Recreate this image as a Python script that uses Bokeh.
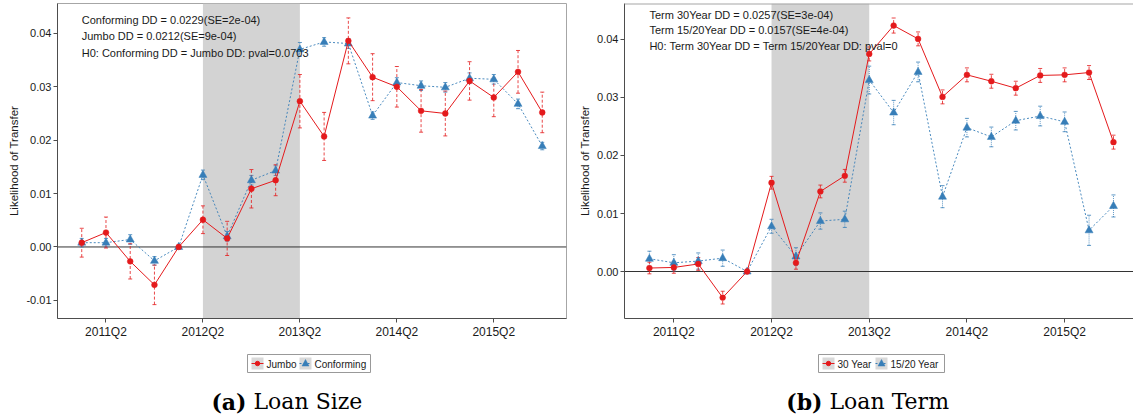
from bokeh.plotting import figure
from bokeh.models import (Range1d, FixedTicker, SingleIntervalTicker, PrintfTickFormatter,
                          BoxAnnotation, Span, GlobalInlineStyleSheet)
from bokeh.layouts import row, column
from bokeh.core.properties import value
from bokeh.embed import file_html
from bokeh.resources import INLINE

# ---------------- data ----------------
quarters = ["2011Q1", "2011Q2", "2011Q3", "2011Q4",
            "2012Q1", "2012Q2", "2012Q3", "2012Q4",
            "2013Q1", "2013Q2", "2013Q3", "2013Q4",
            "2014Q1", "2014Q2", "2014Q3", "2014Q4",
            "2015Q1", "2015Q2", "2015Q3", "2015Q4"]
tick_quarters = ["2011Q2", "2012Q2", "2013Q2", "2014Q2", "2015Q2"]
shade_start = "2012Q2"
shade_end = "2013Q2"

# Panel (a): Loan Size
jumbo = [0.0008, 0.0027, -0.0027, -0.0071, 0.0, 0.0051, 0.0016, 0.0109, 0.0125, 0.0273,
         0.0207, 0.0386, 0.0318, 0.0300, 0.0255, 0.0250, 0.0311, 0.0280, 0.0328, 0.0252]
jumbo_se = [0.0027, 0.0029, 0.0033, 0.0037, 0.0, 0.0026, 0.0032, 0.0036, 0.0029, 0.0050,
            0.0045, 0.0043, 0.0044, 0.0038, 0.0040, 0.0042, 0.0036, 0.0036, 0.0040, 0.0038]
conforming = [0.0008, 0.0008, 0.0014, -0.0026, 0.0, 0.0135, 0.0020, 0.0125, 0.0143, 0.0370,
              0.0384, 0.0381, 0.0246, 0.0308, 0.0302, 0.0299, 0.0316, 0.0314, 0.0268, 0.0189]
conforming_se = [0.0008, 0.0008, 0.0009, 0.0008, 0.0, 0.0009, 0.0009, 0.0009, 0.0009, 0.0013,
                 0.0008, 0.0009, 0.0007, 0.0009, 0.0009, 0.0009, 0.0010, 0.0009, 0.0009, 0.0007]
size_notes = ["Conforming DD = 0.0229(SE=2e-04)",
              "Jumbo DD = 0.0212(SE=9e-04)",
              "H0: Conforming DD =  Jumbo DD: pval=0.0703"]
size_legend = ["Jumbo", "Conforming"]
size_caption = ["(a)", "Loan Size"]

# Panel (b): Loan Term
term30 = [0.0006, 0.0007, 0.0013, -0.0045, 0.0, 0.0153, 0.0015, 0.0138, 0.0165, 0.0375,
          0.0424, 0.0401, 0.0301, 0.0339, 0.0328, 0.0316, 0.0338, 0.0339, 0.0343, 0.0223]
term30_se = [0.0010, 0.0010, 0.0011, 0.0011, 0.0, 0.0011, 0.0011, 0.0011, 0.0011, 0.0012,
             0.0013, 0.0012, 0.0012, 0.0012, 0.0012, 0.0012, 0.0012, 0.0012, 0.0012, 0.0012]
term1520 = [0.0022, 0.0015, 0.0018, 0.0023, 0.0, 0.0078, 0.0026, 0.0087, 0.0090, 0.0330,
            0.0274, 0.0344, 0.0129, 0.0248, 0.0232, 0.0260, 0.0268, 0.0258, 0.0071, 0.0113]
term1520_se = [0.0013, 0.0014, 0.0014, 0.0014, 0.0, 0.0012, 0.0015, 0.0014, 0.0014, 0.0024,
               0.0021, 0.0017, 0.0019, 0.0016, 0.0017, 0.0016, 0.0017, 0.0017, 0.0026, 0.0019]
term_notes = ["Term 30Year DD = 0.0257(SE=3e-04)",
              "Term 15/20Year DD = 0.0157(SE=4e-04)",
              "H0: Term 30Year DD =  Term 15/20Year DD: pval=0"]
term_legend = ["30 Year", "15/20 Year"]
term_caption = ["(b)", "Loan Term"]

RED = "#E41A1C"
BLUE = "#377EB8"
SANS = "Liberation Sans"
SERIF = "DejaVu Serif"
MAIN_H = 345
FOOT_H = 73
TOP = 3
BOTTOM = 27


def panel(red_vals, red_se, blue_vals, blue_se, notes, note_y,
          ylo, yhi, xlo, xhi, width, mbl, mbr, full_outline=True):
    p = figure(width=width, height=MAIN_H, x_range=Range1d(xlo, xhi), y_range=Range1d(ylo, yhi),
               output_backend="svg", toolbar_location=None,
               min_border_left=mbl, min_border_right=mbr, min_border_top=TOP,
               min_border_bottom=BOTTOM)
    p.grid.visible = False
    p.background_fill_color = "white"
    p.border_fill_color = "white"
    if full_outline:
        p.outline_line_color = "#a6a6a6"
    else:
        p.outline_line_color = None
        p.add_layout(Span(location=yhi, dimension="width", line_color="#a6a6a6", line_width=2))

    ppx = (width - mbl - mbr) / (xhi - xlo)
    ppy = (MAIN_H - TOP - BOTTOM) / (yhi - ylo)
    x = list(range(len(quarters)))

    xa = p.below[0]
    xa.ticker = FixedTicker(ticks=[quarters.index(q) for q in tick_quarters])
    xa.major_label_overrides = {quarters.index(q): q for q in tick_quarters}
    xa.major_tick_out = 4
    xa.major_tick_in = 0
    xa.major_label_standoff = 2
    xa.major_label_text_font = SANS
    xa.major_label_text_font_size = "12px"
    xa.major_label_text_color = "#1a1a1a"
    xa.axis_line_color = "#4d4d4d"
    xa.major_tick_line_color = "#4d4d4d"

    ya = p.left[0]
    ya.ticker = SingleIntervalTicker(interval=0.01, num_minor_ticks=0)
    ya.formatter = PrintfTickFormatter(format="%.2f")
    ya.major_tick_out = 4
    ya.major_tick_in = 0
    ya.major_label_standoff = 2
    ya.major_label_text_font = SANS
    ya.major_label_text_font_size = "11px"
    ya.major_label_text_color = "#1a1a1a"
    ya.axis_line_color = "#4d4d4d"
    ya.major_tick_line_color = "#4d4d4d"
    ya.axis_label = "Likelihood of Transfer"
    ya.axis_label_text_font = SANS
    ya.axis_label_text_font_size = "11.5px"
    ya.axis_label_text_font_style = "normal"
    ya.axis_label_text_color = "#1a1a1a"
    ya.axis_label_standoff = 3

    p.add_layout(BoxAnnotation(left=quarters.index(shade_start), right=quarters.index(shade_end),
                               fill_color="#d3d3d3", fill_alpha=1.0, line_color=None,
                               level="underlay"))
    p.add_layout(Span(location=0, dimension="width", line_color="#333333", line_width=1,
                      level="underlay"))

    cap = 2.0 / ppx
    for vals, se, col, dash in ((blue_vals, blue_se, BLUE, "1 1"), (red_vals, red_se, RED, "3 2")):
        lo = [v - s for v, s in zip(vals, se)]
        hi = [v + s for v, s in zip(vals, se)]
        p.segment(x0=x, y0=lo, x1=x, y1=hi, line_color=col, line_alpha=0.8,
                  line_dash=dash, line_width=1)
        p.segment(x0=[xi - cap for xi in x], y0=lo, x1=[xi + cap for xi in x], y1=lo,
                  line_color=col, line_alpha=0.8, line_width=1)
        p.segment(x0=[xi - cap for xi in x], y0=hi, x1=[xi + cap for xi in x], y1=hi,
                  line_color=col, line_alpha=0.8, line_width=1)

    # blue: dotted line + triangles
    p.line(x, blue_vals, line_color=BLUE, line_width=1, line_dash="2 2", line_alpha=0.9)
    hw, up, dn = 4.0 / ppx, 4.6 / ppy, 2.5 / ppy
    p.patches([[xi, xi - hw, xi + hw] for xi in x],
              [[yi + up, yi - dn, yi - dn] for yi in blue_vals],
              fill_color=BLUE, line_color=BLUE, line_width=0.5)
    # red: solid line + circles
    p.line(x, red_vals, line_color=RED, line_width=1)
    p.circle(x, red_vals, radius=2.9, radius_units="screen", fill_color=RED, line_color=RED,
             line_width=0.5)

    # notes
    p.text(x=[0] * len(notes), y=note_y, text=notes, text_font=value(SANS),
           text_font_size=value("11px"), text_baseline=value("middle"),
           text_align=value("left"), text_color="#1a1a1a")
    return p


def footer(width, box_left, labels, caption, cap_x, txt_w1):
    # legend and caption strip below a panel, laid out in pixel units
    f = figure(width=width, height=FOOT_H, x_range=Range1d(0, width), y_range=Range1d(FOOT_H, 0),
               output_backend="svg", toolbar_location=None, x_axis_type=None, y_axis_type=None,
               min_border_left=0, min_border_right=0, min_border_top=0, min_border_bottom=0)
    f.grid.visible = False
    f.outline_line_color = None
    f.background_fill_color = "white"
    f.border_fill_color = "white"
    k1 = box_left + 4
    t1 = k1 + 15
    k2 = t1 + txt_w1 + 3
    t2 = k2 + 15
    box_right = t2 + 52 + 4 if labels[1] == "Conforming" else t2 + 49 + 5
    f.quad(left=[box_left], right=[box_right], top=[9], bottom=[27],
           fill_color="white", line_color="#999999", line_width=1)
    f.quad(left=[k1, k2], right=[k1 + 12, k2 + 12], top=[12, 12], bottom=[24, 24],
           fill_color="#d9d9d9", line_color=None)
    f.segment(x0=[k1], y0=[18], x1=[k1 + 12], y1=[18], line_color=RED, line_width=1)
    f.circle([k1 + 6], [18], radius=2.2, radius_units="screen", fill_color=RED, line_color=RED)
    f.segment(x0=[k2], y0=[18], x1=[k2 + 12], y1=[18], line_color=BLUE, line_width=1,
              line_dash="2 2")
    f.patches([[k2 + 6, k2 + 2.5, k2 + 9.5]], [[14, 20.5, 20.5]],
              fill_color=BLUE, line_color=BLUE, line_width=0.5)
    f.text(x=[t1, t2], y=[18.5, 18.5], text=labels, text_font=value(SANS),
           text_font_size=value("10px"), text_baseline=value("middle"),
           text_align=value("left"), text_color="#1a1a1a")
    f.text(x=[cap_x], y=[56], text=[caption[0]], text_font=value(SERIF),
           text_font_size=value("22px"), text_font_style=value("bold"),
           text_baseline=value("alphabetic"), text_align=value("right"), text_color="black")
    f.text(x=[cap_x + 7], y=[56], text=[caption[1]], text_font=value(SERIF),
           text_font_size=value("22px"), text_baseline=value("alphabetic"),
           text_align=value("left"), text_color="black")
    return f


pa = panel(jumbo, jumbo_se, conforming, conforming_se, size_notes,
           [0.04242, 0.03942, 0.03642],
           -0.0134, 0.0456, -1.0, 20.0, 568, 57, 2, full_outline=True)
pb = panel(term30, term30_se, term1520, term1520_se, term_notes,
           [0.0443, 0.04155, 0.03879],
           -0.0081, 0.0462, -1.02, 19.82, 565, 56, 0, full_outline=False)
fa = footer(568, 247, size_legend, size_caption, 246, 30)
fb = footer(565, 250, term_legend, term_caption, 254, 35)

layout = column(row(pa, pb, spacing=0), row(fa, fb, spacing=0), spacing=0,
                stylesheets=[GlobalInlineStyleSheet(css="body { margin: 0; overflow: hidden; }")])

open("out.html", "w").write(file_html(layout, INLINE))
